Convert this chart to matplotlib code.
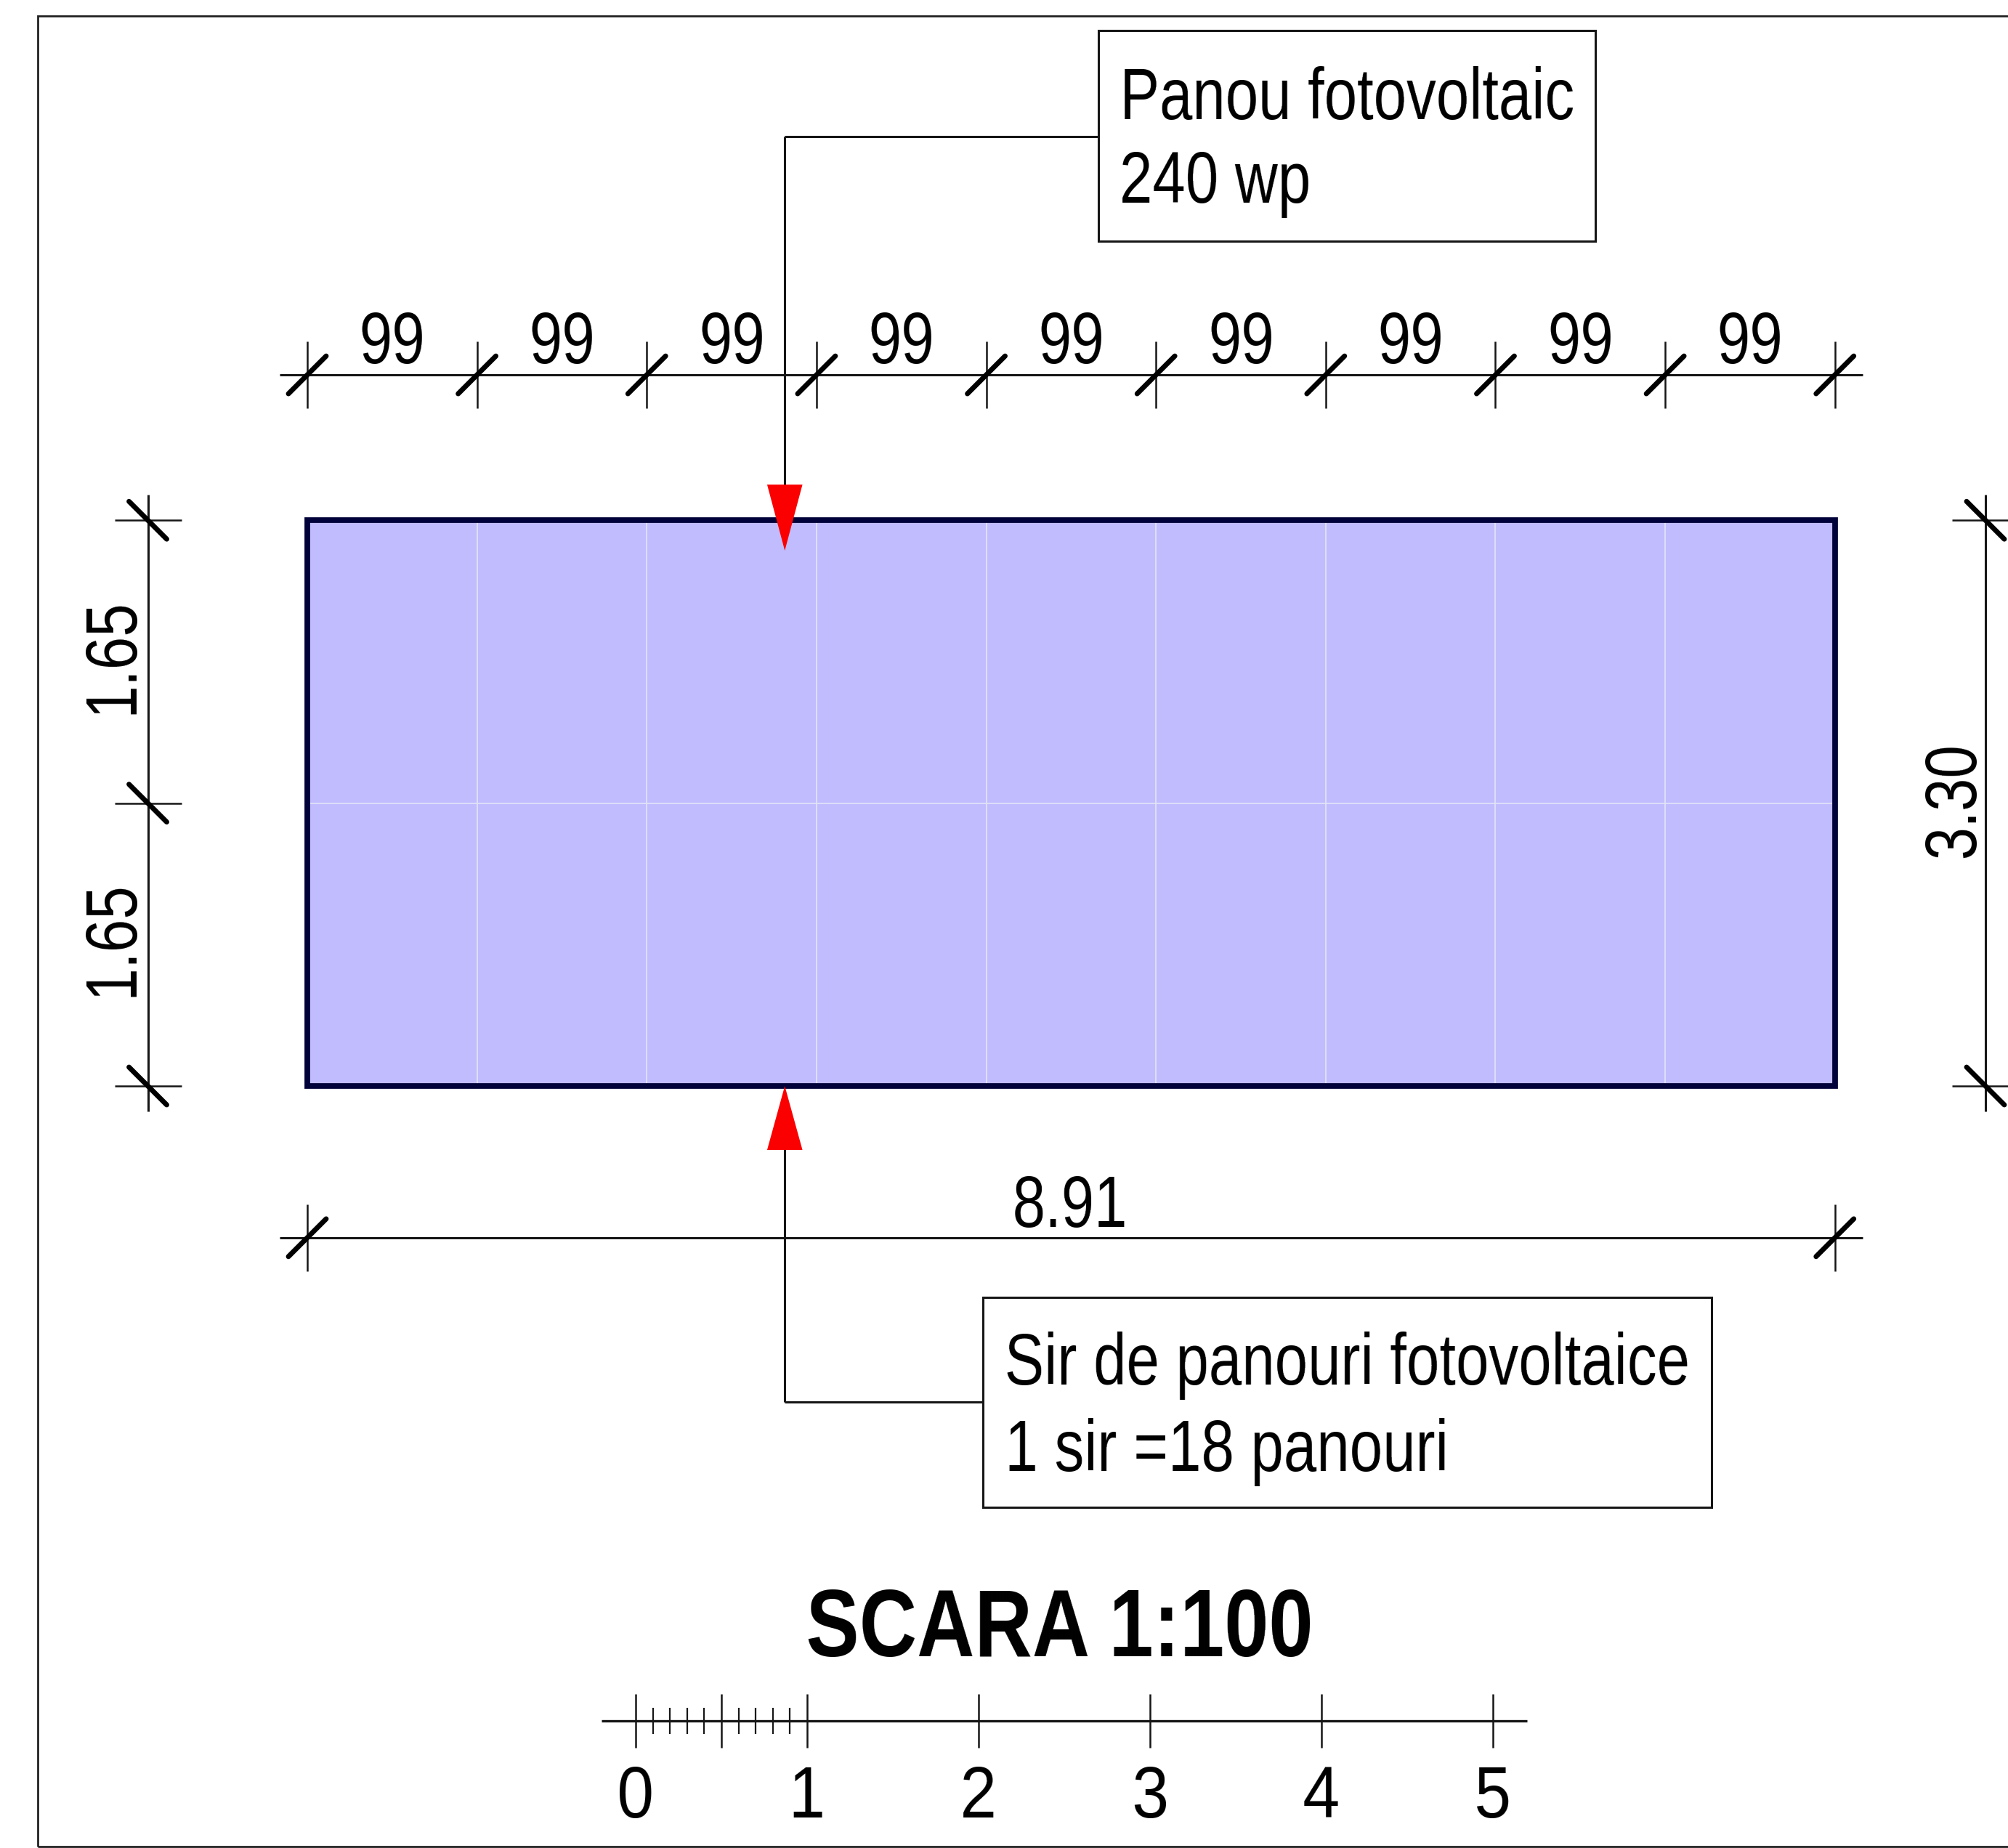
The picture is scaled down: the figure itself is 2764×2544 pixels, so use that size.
import numpy as np
import matplotlib
matplotlib.use("Agg")
import matplotlib.pyplot as plt
from matplotlib.patches import Rectangle, Polygon

# ---- data (metres) ----
panel_width = 0.99
panel_height = 1.65
n_cols = 9
n_rows = 2
top_labels = ["99"] * n_cols
left_labels = ["1.65", "1.65"]
right_label = "3.30"
total_label = "8.91"
callout_top = ["Panou fotovoltaic", "240 wp"]
callout_bottom = ["Sir de panouri fotovoltaice", "1 sir =18 panouri"]
title = "SCARA 1:100"
scale_majors = [0, 1, 2, 3, 4, 5]
scale_half = [0.5]
scale_minors = [0.1, 0.2, 0.3, 0.4, 0.6, 0.7, 0.8, 0.9]

W, H = 2764, 2544
DPI = 200
PX = 236.0
X0, Y0 = 423.0, 1495.0

plt.rcParams["font.family"] = ["Liberation Sans", "DejaVu Sans"]

fig = plt.figure(figsize=(W / DPI, H / DPI), dpi=DPI, facecolor="white")
ax = fig.add_axes([0, 0, 1, 1])
ax.set_xlim(-X0 / PX, (W - X0) / PX)
ax.set_ylim(-(H - Y0) / PX, Y0 / PX)
ax.axis("off")

THIN = 1.1
INK = "#161616"
TXT = 36.5
NARROW = 0.805


def squeeze(ratio, axis, anchor):
    """agg filter: condense rendered text along one axis (narrow lettering)."""
    def _f(img, dpi):
        n = img.shape[axis]
        m = max(1, int(round(n * ratio)))
        cum = np.concatenate([np.zeros_like(np.take(img, [0], axis=axis)),
                              np.cumsum(img, axis=axis)], axis=axis)
        edges = np.linspace(0, n, m + 1)
        lo = np.minimum(edges.astype(int), n - 1)
        frac = edges - lo
        shape = [1, 1, 1]
        shape[axis] = -1
        frac = frac.reshape(shape)
        vals = np.take(cum, lo, axis=axis) * (1 - frac) + np.take(cum, lo + 1, axis=axis) * frac
        out = np.clip(np.diff(vals, axis=axis) * (m / n), 0, 1)
        shift = (n - m) / 2 if anchor == "center" else 0
        ox = int(round(shift)) if axis == 1 else 0
        oy = int(round(shift)) if axis == 0 else 0
        return out, ox, oy
    return _f


def label(x, y, s, ha="center", rotation=0, size=TXT, ratio=NARROW, **kw):
    t = ax.text(x, y, s, ha=ha, va="baseline", rotation=rotation, rotation_mode="anchor",
                fontsize=size, color="black", zorder=6, **kw)
    t.set_agg_filter(squeeze(ratio, 0 if rotation == 90 else 1, "center" if ha == "center" else "left"))
    return t


def line(xs, ys, lw=THIN, c=INK, z=3, cap="butt"):
    ax.plot(xs, ys, color=c, lw=lw, zorder=z, solid_capstyle=cap)


def htick(x, y):
    line([x, x], [y - 0.195, y + 0.195], lw=0.9)
    line([x - 0.11, x + 0.11], [y - 0.11, y + 0.11], lw=2.5, c="black", cap="round")


def vtick(x, y):
    line([x - 0.195, x + 0.195], [y, y], lw=0.9)
    line([x - 0.11, x + 0.11], [y + 0.11, y - 0.11], lw=2.5, c="black", cap="round")


# frame
ax.add_patch(Rectangle((-371 / PX, -(H - 2 - Y0) / PX), (W + 400) / PX, (H - 24) / PX,
                       fc="none", ec="#222222", lw=1.0, zorder=2, clip_on=True))

# panel field
total_w = panel_width * n_cols
total_h = panel_height * n_rows
ax.add_patch(Rectangle((0, 0), total_w, total_h, fc="#c0bcfe", ec="none", zorder=1))
for i in range(1, n_cols):
    line([i * panel_width] * 2, [0, total_h], lw=0.6, c="#e4e4f8", z=2)
for j in range(1, n_rows):
    line([0, total_w], [j * panel_height] * 2, lw=0.6, c="#e4e4f8", z=2)
ax.add_patch(Rectangle((0, 0), total_w, total_h, fc="none", ec="#02023a", lw=2.8,
                       zorder=4, joinstyle="miter"))

# top dimension chain
y_top = 4.148
line([-0.16, total_w + 0.16], [y_top, y_top])
for i in range(n_cols + 1):
    htick(i * panel_width, y_top)
for i, lab in enumerate(top_labels):
    label((i + 0.5) * panel_width, 4.215, lab)

# bottom total dimension
y_bot = -0.885
line([-0.16, total_w + 0.16], [y_bot, y_bot])
htick(0, y_bot)
htick(total_w, y_bot)
label(4.45, -0.82, total_label)

# left dimension chain
x_left = -0.93
line([x_left, x_left], [-0.15, total_h + 0.15])
for j in range(n_rows + 1):
    vtick(x_left, j * panel_height)
for j, lab in enumerate(left_labels):
    label(-1.026, (j + 0.5) * panel_height + 0.036, lab, rotation=90)

# right dimension
x_right = 9.788
line([x_right, x_right], [-0.15, total_h + 0.15])
vtick(x_right, 0)
vtick(x_right, total_h)
label(9.722, total_h / 2 + 0.022, right_label, rotation=90)

# callouts
x_lead = 2.785
line([x_lead, x_lead], [3.5, 5.54])
line([x_lead, 4.614], [5.54, 5.54])
ax.add_patch(Polygon([(x_lead - 0.103, 3.508), (x_lead + 0.103, 3.508), (x_lead, 3.123)],
                     fc="#fb0000", ec="none", zorder=5))
ax.add_patch(Rectangle((4.614, 4.93), 2.898, 1.227, fc="white", ec=INK, lw=THIN, zorder=3))
label(4.733, 5.638, callout_top[0], ha="left")
label(4.733, 5.152, callout_top[1], ha="left")

line([x_lead, x_lead], [-0.37, -1.845])
line([x_lead, 3.94], [-1.845, -1.845])
ax.add_patch(Polygon([(x_lead - 0.103, -0.373), (x_lead + 0.103, -0.373), (x_lead, 0.0)],
                     fc="#fb0000", ec="none", zorder=5))
ax.add_patch(Rectangle((3.94, -2.458), 4.25, 1.225, fc="white", ec=INK, lw=THIN, zorder=3))
label(4.063, -1.743, callout_bottom[0], ha="left")
label(4.063, -2.244, callout_bottom[1], ha="left")

# title
label(4.39, -3.325, title, size=47, ratio=0.842, fontweight="bold")

# scale bar
sx0 = 1.915
sy = -3.703
line([sx0 - 0.2, sx0 + 5.2], [sy, sy], lw=1.2)
for v in scale_majors + scale_half:
    line([sx0 + v] * 2, [sy - 0.157, sy + 0.157], lw=0.9)
for v in scale_minors:
    line([sx0 + v] * 2, [sy - 0.078, sy + 0.078], lw=0.8)
for v in scale_majors:
    label(sx0 + v, -4.268, str(v), ratio=0.9)

fig.savefig("out.png", dpi=DPI, facecolor="white")
